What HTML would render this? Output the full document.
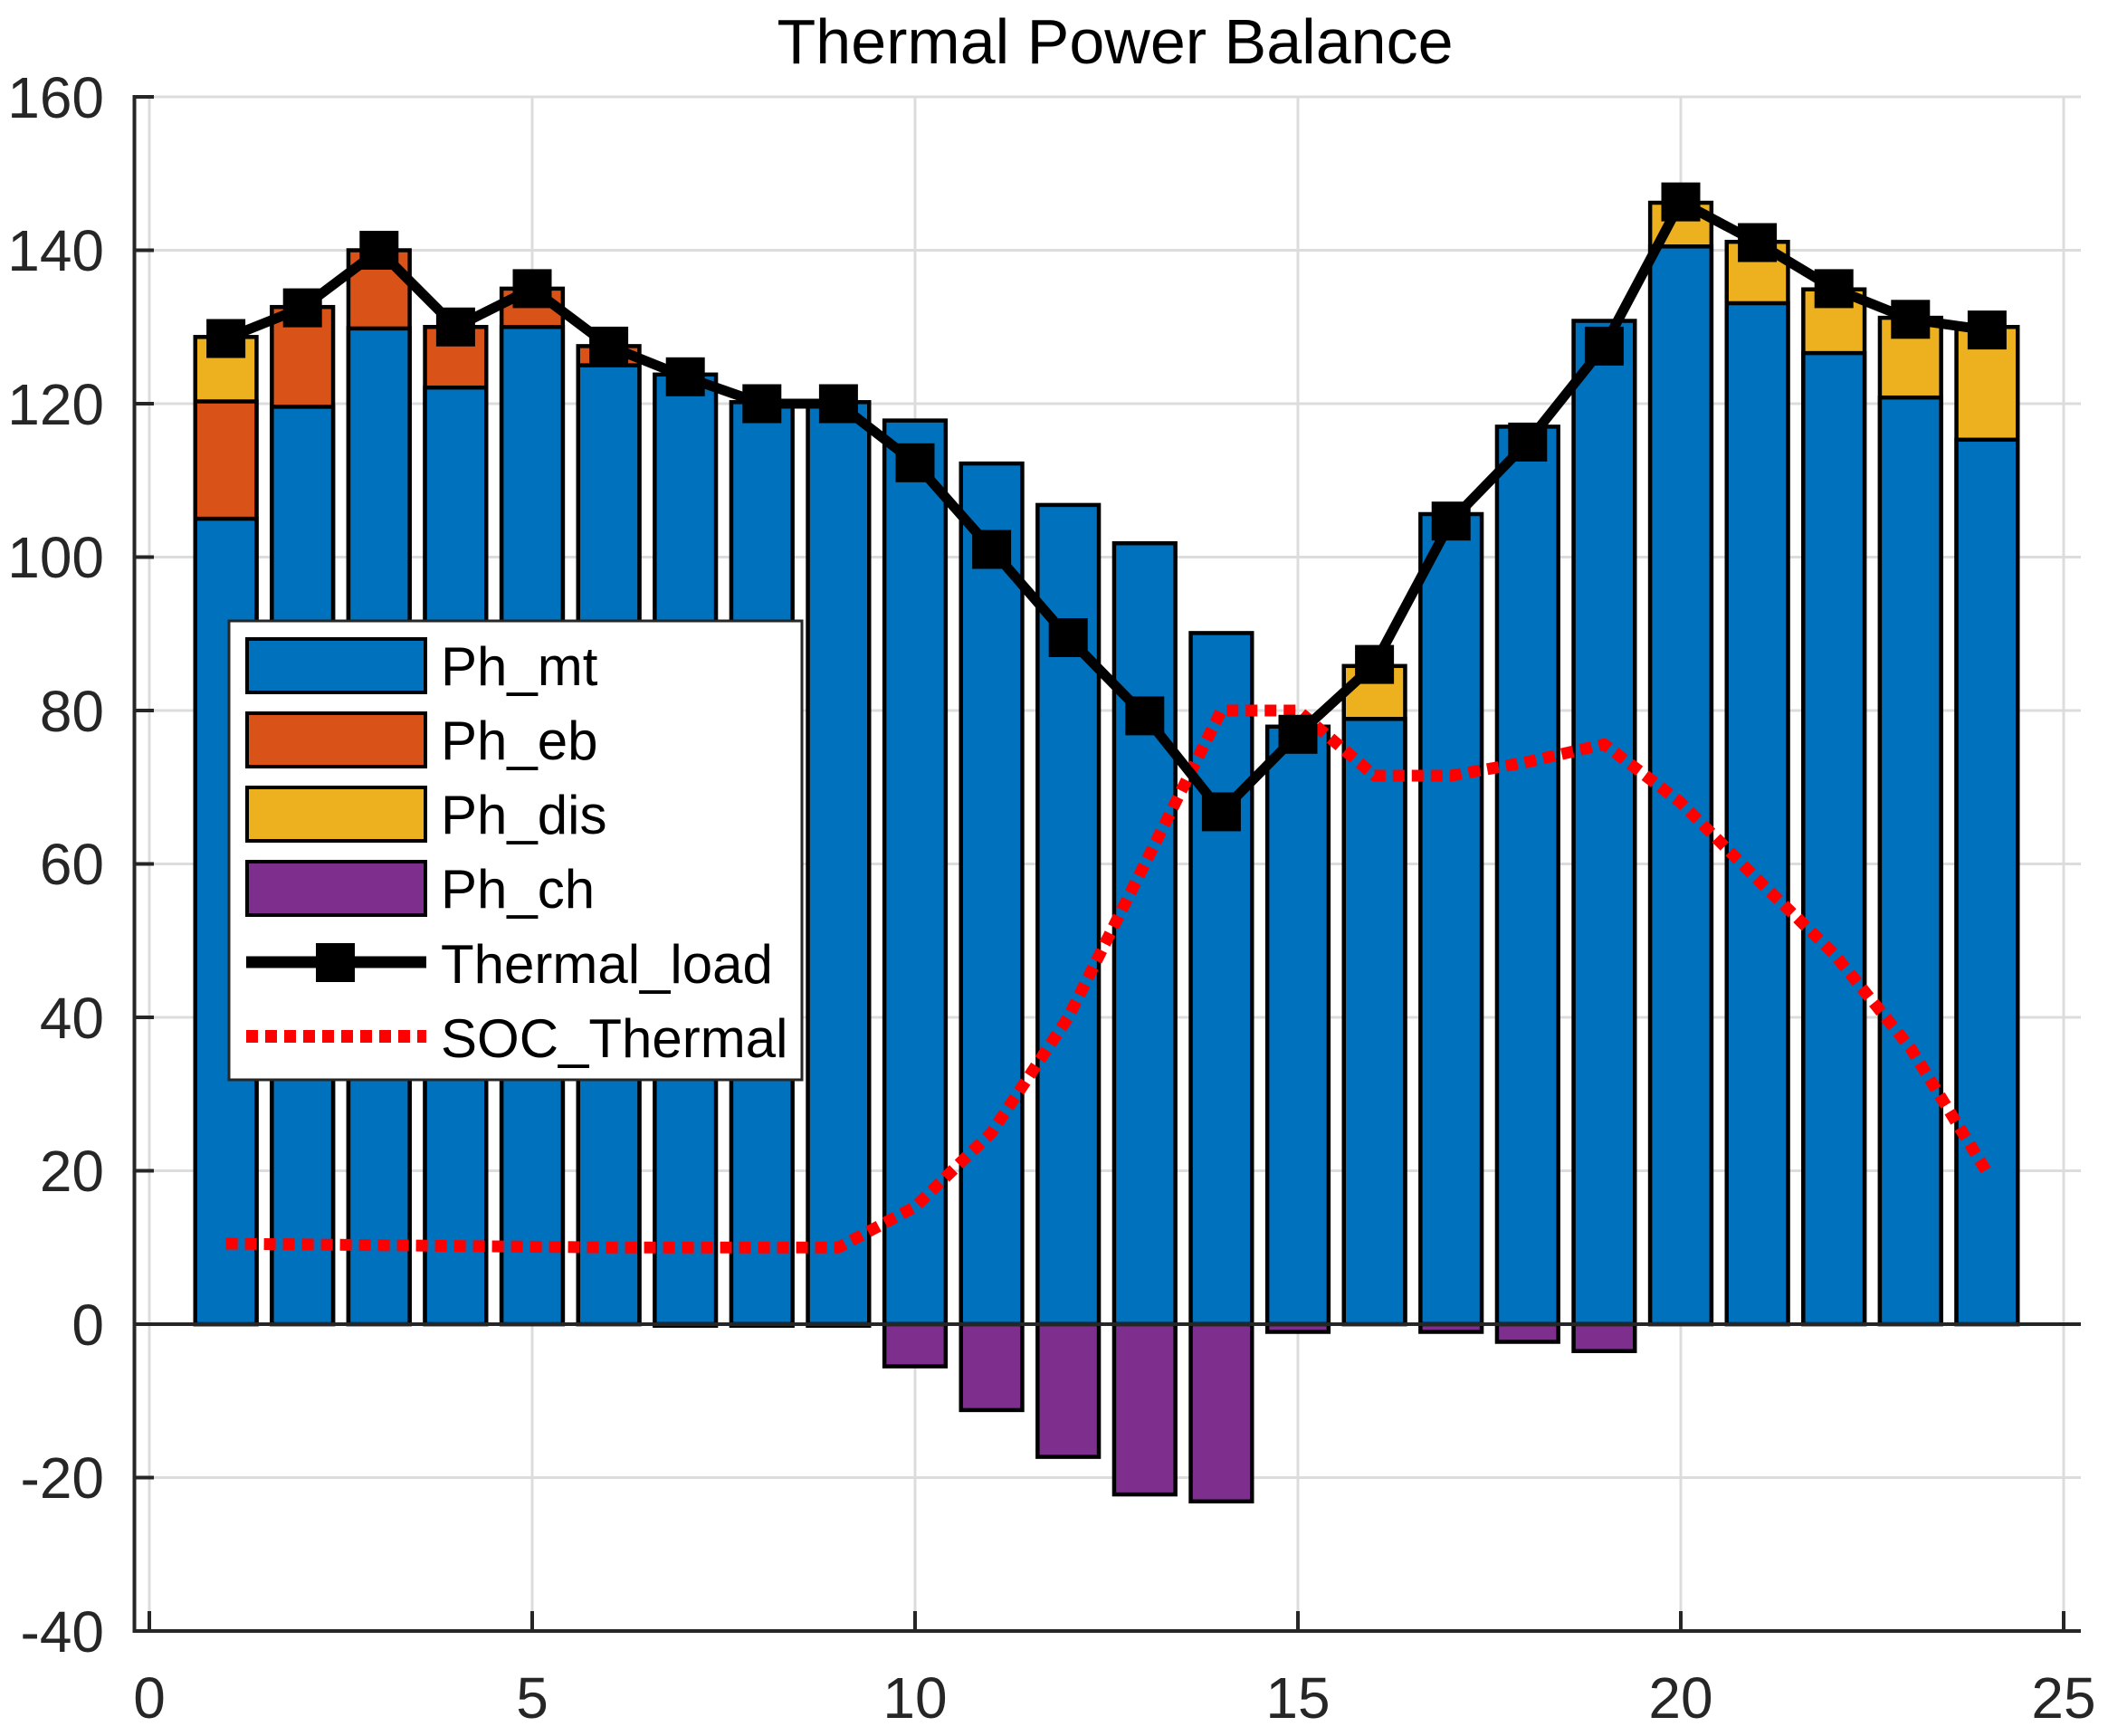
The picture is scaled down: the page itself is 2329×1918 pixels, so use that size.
<!DOCTYPE html>
<html><head><meta charset="utf-8"><style>
html,body{margin:0;padding:0;background:#fff;}
svg{display:block;font-family:"Liberation Sans",Arial,sans-serif;}
</style></head><body>
<svg width="2329" height="1918" viewBox="0 0 2329 1918" xmlns="http://www.w3.org/2000/svg">
<rect width="2329" height="1918" fill="#fff"/>
<g stroke="#dcdcdc" stroke-width="3">
<line x1="165" y1="107" x2="165" y2="1802"/><line x1="588" y1="107" x2="588" y2="1802"/><line x1="1011" y1="107" x2="1011" y2="1802"/><line x1="1434" y1="107" x2="1434" y2="1802"/><line x1="1857" y1="107" x2="1857" y2="1802"/><line x1="2280" y1="107" x2="2280" y2="1802"/>
<line x1="150" y1="107" x2="2299" y2="107"/><line x1="150" y1="276.5" x2="2299" y2="276.5"/><line x1="150" y1="446" x2="2299" y2="446"/><line x1="150" y1="615.5" x2="2299" y2="615.5"/><line x1="150" y1="785" x2="2299" y2="785"/><line x1="150" y1="954.5" x2="2299" y2="954.5"/><line x1="150" y1="1124" x2="2299" y2="1124"/><line x1="150" y1="1293.5" x2="2299" y2="1293.5"/><line x1="150" y1="1632.5" x2="2299" y2="1632.5"/>
</g>
<g stroke="#000" stroke-width="4.5">
<!-- dis totals -->
<g fill="#EDB120">
<rect x="215.75" y="372.3" width="67.7" height="1090.7"/>
<rect x="1484.75" y="735.8" width="67.7" height="727.2"/>
<rect x="1823.15" y="224" width="67.7" height="1239"/>
<rect x="1907.75" y="267.2" width="67.7" height="1195.8"/>
<rect x="1992.35" y="319.7" width="67.7" height="1143.3"/>
<rect x="2076.95" y="351.1" width="67.7" height="1111.9"/>
<rect x="2161.55" y="361.25" width="67.7" height="1101.75"/>
</g>
<g fill="#D95319">
<rect x="215.75" y="443.5" width="67.7" height="1019.5"/>
<rect x="300.35" y="339.2" width="67.7" height="1123.8"/>
<rect x="384.95" y="276.5" width="67.7" height="1186.5"/>
<rect x="469.55" y="361.25" width="67.7" height="1101.75"/>
<rect x="554.15" y="318.9" width="67.7" height="1144.1"/>
<rect x="638.75" y="382.4" width="67.7" height="1080.6"/>
</g>
<g fill="#0072BD">
<rect x="215.75" y="573.1" width="67.7" height="889.9"/>
<rect x="300.35" y="449.4" width="67.7" height="1013.6"/>
<rect x="384.95" y="362.9" width="67.7" height="1100.1"/>
<rect x="469.55" y="428.2" width="67.7" height="1034.8"/>
<rect x="554.15" y="361.25" width="67.7" height="1101.75"/>
<rect x="638.75" y="403.6" width="67.7" height="1059.4"/>
<rect x="723.35" y="413.8" width="67.7" height="1049.2"/>
<rect x="807.95" y="444.3" width="67.7" height="1018.7"/>
<rect x="892.55" y="444.3" width="67.7" height="1018.7"/>
<rect x="977.15" y="464.6" width="67.7" height="998.4"/>
<rect x="1061.75" y="512.1" width="67.7" height="950.9"/>
<rect x="1146.35" y="557.9" width="67.7" height="905.1"/>
<rect x="1230.95" y="600.2" width="67.7" height="862.8"/>
<rect x="1315.55" y="699.4" width="67.7" height="763.6"/>
<rect x="1400.15" y="802.8" width="67.7" height="660.2"/>
<rect x="1484.75" y="794.3" width="67.7" height="668.7"/>
<rect x="1569.35" y="568" width="67.7" height="895"/>
<rect x="1653.95" y="471.4" width="67.7" height="991.6"/>
<rect x="1738.55" y="354.5" width="67.7" height="1108.5"/>
<rect x="1823.15" y="272.3" width="67.7" height="1190.7"/>
<rect x="1907.75" y="335" width="67.7" height="1128"/>
<rect x="1992.35" y="390.1" width="67.7" height="1072.9"/>
<rect x="2076.95" y="439.2" width="67.7" height="1023.8"/>
<rect x="2161.55" y="485.8" width="67.7" height="977.2"/>
</g>
<g fill="#7E2F8E">
<rect x="723.35" y="1463" width="67.7" height="1.7"/>
<rect x="807.95" y="1463" width="67.7" height="1.7"/>
<rect x="892.55" y="1463" width="67.7" height="1.7"/>
<rect x="977.15" y="1463" width="67.7" height="46.6"/>
<rect x="1061.75" y="1463" width="67.7" height="94.9"/>
<rect x="1146.35" y="1463" width="67.7" height="146.6"/>
<rect x="1230.95" y="1463" width="67.7" height="188.1"/>
<rect x="1315.55" y="1463" width="67.7" height="195.8"/>
<rect x="1400.15" y="1463" width="67.7" height="8.5"/>
<rect x="1569.35" y="1463" width="67.7" height="8.5"/>
<rect x="1653.95" y="1463" width="67.7" height="19.5"/>
<rect x="1738.55" y="1463" width="67.7" height="29.7"/>
</g>
</g>
<g stroke="#262626" stroke-width="4" fill="none">
<line x1="148.5" y1="105" x2="148.5" y2="1804"/>
<line x1="146.5" y1="1802" x2="2299" y2="1802"/>
<line x1="148.5" y1="1463" x2="2299" y2="1463"/>
<line x1="148.5" y1="107" x2="170" y2="107"/><line x1="148.5" y1="276.5" x2="170" y2="276.5"/><line x1="148.5" y1="446" x2="170" y2="446"/><line x1="148.5" y1="615.5" x2="170" y2="615.5"/><line x1="148.5" y1="785" x2="170" y2="785"/><line x1="148.5" y1="954.5" x2="170" y2="954.5"/><line x1="148.5" y1="1124" x2="170" y2="1124"/><line x1="148.5" y1="1293.5" x2="170" y2="1293.5"/><line x1="148.5" y1="1632.5" x2="170" y2="1632.5"/>
<line x1="165" y1="1802" x2="165" y2="1780"/><line x1="588" y1="1802" x2="588" y2="1780"/><line x1="1011" y1="1802" x2="1011" y2="1780"/><line x1="1434" y1="1802" x2="1434" y2="1780"/><line x1="1857" y1="1802" x2="1857" y2="1780"/><line x1="2280" y1="1802" x2="2280" y2="1780"/>
</g>
<polyline fill="none" stroke="#f00" stroke-width="13" stroke-dasharray="13 8" stroke-linejoin="round" points="249.6,1374 334.2,1374.9 418.8,1375.7 503.4,1376.6 588,1377.4 672.6,1378.25 757.2,1378.25 841.8,1378.25 926.4,1378.25 1011,1333.3 1095.6,1251.1 1180.2,1124 1264.8,954.5 1349.4,785 1434,785 1518.6,857 1603.2,857 1687.8,841.8 1772.4,822.3 1857,886.7 1941.6,971.4 2026.2,1053.7 2110.8,1157.9 2195.4,1295.2"/>
<polyline fill="none" stroke="#000" stroke-width="11" points="249.6,374 334.2,340.1 418.8,276.5 503.4,361.25 588,318.9 672.6,382.4 757.2,416.3 841.8,446 926.4,446 1011,511.3 1095.6,607 1180.2,704.5 1264.8,790.9 1349.4,896.9 1434,811.3 1518.6,734.1 1603.2,575.7 1687.8,488.4 1772.4,382.4 1857,223.1 1941.6,268 2026.2,318.9 2110.8,352.8 2195.4,364.6"/>
<g fill="#000">
<rect x="228.1" y="352.5" width="43" height="43"/><rect x="312.7" y="318.6" width="43" height="43"/><rect x="397.3" y="255" width="43" height="43"/><rect x="481.9" y="339.75" width="43" height="43"/><rect x="566.5" y="297.4" width="43" height="43"/><rect x="651.1" y="360.9" width="43" height="43"/><rect x="735.7" y="394.8" width="43" height="43"/><rect x="820.3" y="424.5" width="43" height="43"/><rect x="904.9" y="424.5" width="43" height="43"/><rect x="989.5" y="489.8" width="43" height="43"/><rect x="1074.1" y="585.5" width="43" height="43"/><rect x="1158.7" y="683" width="43" height="43"/><rect x="1243.3" y="769.4" width="43" height="43"/><rect x="1327.9" y="875.4" width="43" height="43"/><rect x="1412.5" y="789.8" width="43" height="43"/><rect x="1497.1" y="712.6" width="43" height="43"/><rect x="1581.7" y="554.2" width="43" height="43"/><rect x="1666.3" y="466.9" width="43" height="43"/><rect x="1750.9" y="360.9" width="43" height="43"/><rect x="1835.5" y="201.6" width="43" height="43"/><rect x="1920.1" y="246.5" width="43" height="43"/><rect x="2004.7" y="297.4" width="43" height="43"/><rect x="2089.3" y="331.3" width="43" height="43"/><rect x="2173.9" y="343.1" width="43" height="43"/>
</g>
<text x="1232" y="70" font-size="70" text-anchor="middle" fill="#000">Thermal Power Balance</text>
<g font-size="64" fill="#262626" text-anchor="end">
<text x="115" y="130">160</text>
<text x="115" y="299">140</text>
<text x="115" y="469">120</text>
<text x="115" y="638">100</text>
<text x="115" y="808">80</text>
<text x="115" y="977">60</text>
<text x="115" y="1147">40</text>
<text x="115" y="1316">20</text>
<text x="115" y="1486">0</text>
<text x="115" y="1655">-20</text>
<text x="115" y="1825">-40</text>
</g>
<g font-size="64" fill="#262626" text-anchor="middle">
<text x="165" y="1898">0</text>
<text x="588" y="1898">5</text>
<text x="1011" y="1898">10</text>
<text x="1434" y="1898">15</text>
<text x="1857" y="1898">20</text>
<text x="2280" y="1898">25</text>
</g>
<g>
<rect x="253" y="686" width="633" height="507" fill="#fff" stroke="#262626" stroke-width="3"/>
<rect x="273" y="706" width="197" height="59" fill="#0072BD" stroke="#000" stroke-width="4"/>
<rect x="273" y="788" width="197" height="59" fill="#D95319" stroke="#000" stroke-width="4"/>
<rect x="273" y="870" width="197" height="59" fill="#EDB120" stroke="#000" stroke-width="4"/>
<rect x="273" y="952" width="197" height="59" fill="#7E2F8E" stroke="#000" stroke-width="4"/>
<line x1="272" y1="1063" x2="471" y2="1063" stroke="#000" stroke-width="13"/>
<rect x="349" y="1042" width="43" height="43" fill="#000"/>
<line x1="272" y1="1145" x2="471" y2="1145" stroke="#f00" stroke-width="14" stroke-dasharray="13 8"/>
<g font-size="60" fill="#000">
<text x="487" y="757">Ph_mt</text>
<text x="487" y="839">Ph_eb</text>
<text x="487" y="921">Ph_dis</text>
<text x="487" y="1003">Ph_ch</text>
<text x="487" y="1086">Thermal_load</text>
<text x="487" y="1168">SOC_Thermal</text>
</g>
</g>
</svg>
</body></html>
